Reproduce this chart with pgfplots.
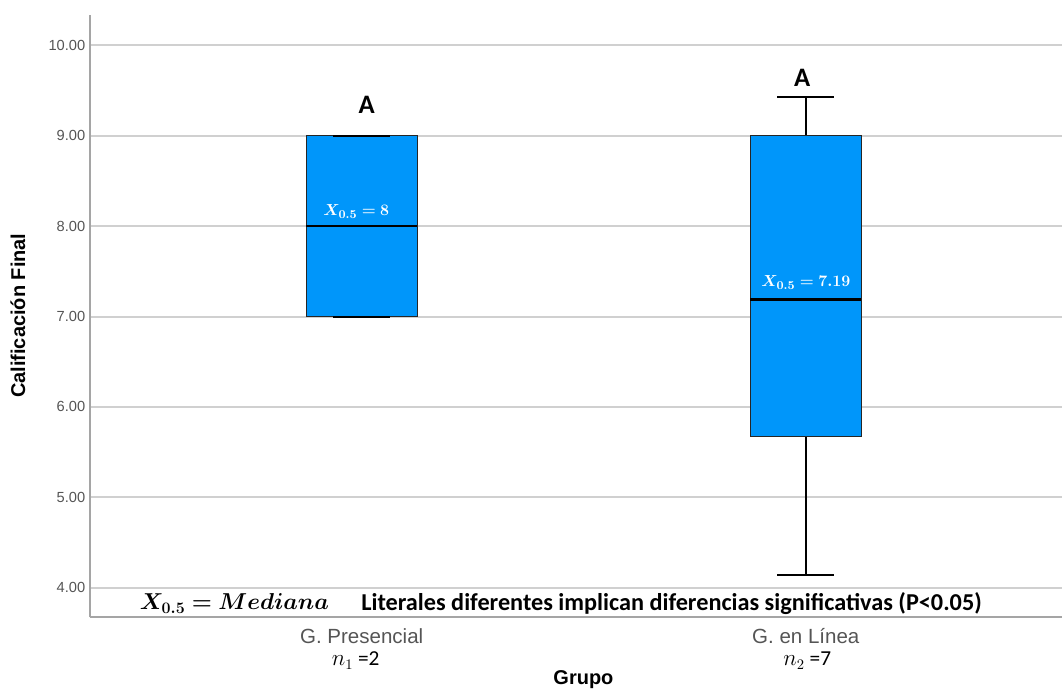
\documentclass[border=0pt]{standalone}
\usepackage{pgfplots}
\pgfplotsset{compat=1.18}
\usepackage{bm}
\usepackage{fontspec}
\setmainfont{Carlito}
\setsansfont{Liberation Sans}
\definecolor{boxblue}{RGB}{0,150,250}
\definecolor{gridgray}{RGB}{208,208,208}
\definecolor{axisgray}{RGB}{165,165,165}
\definecolor{tickgray}{RGB}{85,85,85}
\begin{document}
\begin{tikzpicture}
\begin{axis}[
  at={(67.5pt,55.5pt)}, anchor=south west,
  scale only axis, width=729.75pt, height=452.25pt,
  xmin=0.388, xmax=2.577, ymin=3.672, ymax=10.335,
  clip=false,
  axis x line*=bottom, axis y line*=left,
  axis line style={draw=axisgray, line width=1.5pt},
  tick style={draw=none},
  ytick={4,5,6,7,8,9,10},
  yticklabels={4.00,5.00,6.00,7.00,8.00,9.00,10.00},
  yticklabel style={font=\sffamily\fontsize{11}{12}\selectfont, text=tickgray},
  xtick={1,2},
  xticklabels={G. Presencial, G. en Línea},
  xticklabel style={anchor=center, yshift=-14pt, font=\sffamily\fontsize{15.4}{17}\selectfont, text=tickgray},
  ymajorgrids,
  grid style={draw=gridgray, line width=1.5pt},
]
\addplot[fill=boxblue, draw=black!85, line width=0.8pt, mark=none] coordinates {(0.875,7) (1.125,7) (1.125,9) (0.875,9) (0.875,7)};
\addplot[black, line width=1.9pt, mark=none] coordinates {(0.875,8) (1.125,8)};
\addplot[black, line width=1.5pt, mark=none] coordinates {(0.936,9) (1.064,9)};
\addplot[black, line width=1.5pt, mark=none] coordinates {(0.936,7) (1.064,7)};
\addplot[black, line width=1.5pt, mark=none] coordinates {(2,9) (2,9.425)};
\addplot[black, line width=1.5pt, mark=none] coordinates {(2,5.675) (2,4.144)};
\addplot[black, line width=1.5pt, mark=none] coordinates {(1.936,9.425) (2.064,9.425)};
\addplot[black, line width=1.5pt, mark=none] coordinates {(1.936,4.144) (2.064,4.144)};
\addplot[fill=boxblue, draw=black!85, line width=0.8pt, mark=none] coordinates {(1.875,5.675) (2.125,5.675) (2.125,9) (1.875,9) (1.875,5.675)};
\addplot[black, line width=1.9pt, mark=none] coordinates {(1.875,7.19) (2.125,7.19)};
\end{axis}
\path (0pt,0pt) rectangle (797.25pt,519pt);
\node[font=\bfseries\fontsize{20}{22}\selectfont] at (275.25pt,440.5pt) {A};
\node[font=\bfseries\fontsize{20}{22}\selectfont] at (602.25pt,460.6pt) {A};
\node[text=white, font=\fontsize{13}{15}\selectfont] at (267.5pt,360.2pt) {$\bm{X_{0.5}=8}$};
\node[text=white, font=\fontsize{13}{15}\selectfont] at (605pt,307pt) {$\bm{X_{0.5}=7.19}$};
\node[anchor=east, font=\fontsize{17}{19}\selectfont] at (250.5pt,66pt) {$\bm{X_{0.5} = Mediana}$};
\node[anchor=west, font=\bfseries\fontsize{18.2}{20}\selectfont] at (267.75pt,66pt) {Literales diferentes implican diferencias significativas (P<0.05)};
\node[font=\fontsize{16}{18}\selectfont] at (267pt,23pt) {$n_1$ =2};
\node[font=\fontsize{16}{18}\selectfont] at (606pt,23pt) {$n_2$ =7};
\node[font=\sffamily\bfseries\fontsize{15}{17}\selectfont] at (438pt,9pt) {Grupo};
\node[rotate=90, font=\sffamily\bfseries\fontsize{15}{17}\selectfont] at (13.5pt,282pt) {Calificación Final};
\end{tikzpicture}
\end{document}
